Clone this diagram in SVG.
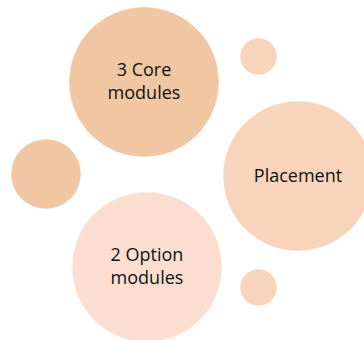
<svg xmlns="http://www.w3.org/2000/svg" width="364" height="340" viewBox="0 0 364 340">
<style>
.c{stroke:#ffffff;stroke-opacity:0.5;stroke-width:1}
.t{font-family:"Open Sans","Noto Sans",sans-serif;font-size:18px;fill:#111;text-anchor:middle}
</style>
<rect width="364" height="340" fill="#ffffff"/>
<g id="core"><circle class="c" cx="144" cy="82" r="75" fill="#F1C6A2"/><text class="t" x="144" y="76">3 Core</text><text class="t" x="144" y="99">modules</text></g>
<g id="dot1"><circle class="c" cx="258.5" cy="56.5" r="18.5" fill="#F8D4BC"/></g>
<g id="placement"><circle class="c" cx="298" cy="176" r="75" fill="#F8D4BC"/><text class="t" x="298" y="182">Placement</text></g>
<g id="dot2"><circle class="c" cx="46" cy="174" r="35" fill="#F1C6A2"/></g>
<g id="option"><circle class="c" cx="147" cy="267" r="75" fill="#FBDECF"/><text class="t" x="147" y="261">2 Option</text><text class="t" x="147" y="284">modules</text></g>
<g id="dot3"><circle class="c" cx="258.5" cy="287.5" r="18.5" fill="#F8D4BC"/></g>
<g id="connectors"></g>
</svg>
